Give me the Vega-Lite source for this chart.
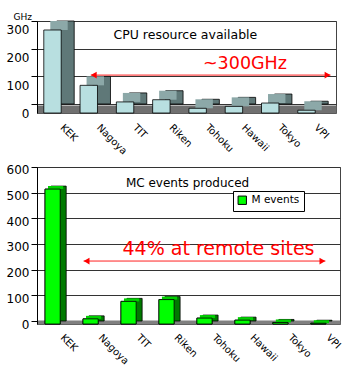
{
  "$schema": "https://vega.github.io/schema/vega-lite/v6.json",
  "padding": {"left": 5, "top": 11, "right": 5, "bottom": 0},
  "spacing": 6,
  "config": {
    "font": "DejaVu Sans",
    "view": {"stroke": "#444", "strokeWidth": 1},
    "axis": {"labelColor": "#000", "domainColor": "#000", "tickColor": "#000", "labelFont": "DejaVu Sans", "labelOverlap": false}
  },
  "vconcat": [
    {
      "width": 299,
      "height": 92,
      "data": {"values": [
        {"site": "KEK", "ghz": 300},
        {"site": "Nagoya", "ghz": 100},
        {"site": "TIT", "ghz": 40},
        {"site": "Riken", "ghz": 48},
        {"site": "Tohoku", "ghz": 17},
        {"site": "Hawaii", "ghz": 24},
        {"site": "Tokyo", "ghz": 36},
        {"site": "VPI", "ghz": 10}
      ]},
      "encoding": {
        "x": {
          "field": "site", "type": "nominal",
          "scale": {"domain": ["KEK", "Nagoya", "TIT", "Riken", "Tohoku", "Hawaii", "Tokyo", "VPI"], "paddingInner": 0.52, "paddingOuter": 0.38},
          "axis": {"title": null, "domain": true, "domainColor": "#707070", "domainWidth": 8, "offset": -4, "ticks": false, "labelAngle": 45, "labelAlign": "left", "labelBaseline": "top", "labelPadding": 13, "labelOffset": 6, "labelFontSize": 10}
        },
        "y": {
          "field": "ghz", "type": "quantitative",
          "scale": {"domain": [0, 332.5], "nice": false},
          "axis": {"values": [0, 100, 200, 300], "grid": true, "gridColor": "#333", "gridWidth": 1, "tickOffset": -9, "labelOffset": 9, "labelFontSize": 12, "tickSize": 6,
            "title": "GHz", "titleAngle": 0, "titleAlign": "left", "titleBaseline": "alphabetic", "titleX": -24, "titleY": -2, "titleFontSize": 9, "titleFontWeight": "normal", "titleColor": "#000"}
        }
      },
      "layer": [
        {
          "mark": {"type": "bar", "color": "#5f7878", "stroke": "#000", "strokeWidth": 0.8, "xOffset": 6, "yOffset": -9, "y2Offset": -9}
        },
        {
          "mark": {"type": "bar", "color": "#8ca8a8", "xOffset": -0.5, "yOffset": -9, "y2Offset": 0},
          "encoding": {"y2": {"field": "ghz"}}
        },
        {
          "mark": {"type": "bar", "color": "#b8dfe0", "stroke": "#000", "strokeWidth": 0.8, "xOffset": -7}
        },
        {
          "data": {"values": [{"t": "CPU resource available", "site": "Riken", "ghz": 282}]},
          "mark": {"type": "text", "fontSize": 12.5, "color": "#000", "dx": 17, "baseline": "middle"},
          "encoding": {"text": {"field": "t"}}
        },
        {
          "data": {"values": [{"t": "~300GHz", "site": "Hawaii", "ghz": 177}]},
          "mark": {"type": "text", "fontSize": 17.5, "color": "#ff0000", "dx": 4, "baseline": "middle"},
          "encoding": {"text": {"field": "t"}}
        },
        {
          "data": {"values": [{"site": "Nagoya", "site2": "VPI", "ghz": 137}]},
          "mark": {"type": "rule", "color": "#ff2020", "strokeWidth": 1, "xOffset": -5, "x2Offset": 17},
          "encoding": {"x2": {"field": "site2"}}
        },
        {
          "data": {"values": [{"site": "Nagoya", "ghz": 137}]},
          "mark": {"type": "point", "shape": "triangle-left", "filled": true, "color": "#ff0000", "size": 45, "xOffset": -2, "opacity": 1}
        },
        {
          "data": {"values": [{"site": "VPI", "ghz": 137}]},
          "mark": {"type": "point", "shape": "triangle-right", "filled": true, "color": "#ff0000", "size": 45, "xOffset": 14, "opacity": 1}
        }
      ]
    },
    {
      "width": 303,
      "height": 157,
      "data": {"values": [
        {"site": "KEK", "events": 525},
        {"site": "Nagoya", "events": 20},
        {"site": "TIT", "events": 88},
        {"site": "Riken", "events": 95},
        {"site": "Tohoku", "events": 23},
        {"site": "Hawaii", "events": 15},
        {"site": "Tokyo", "events": 6},
        {"site": "VPI", "events": 3}
      ]},
      "encoding": {
        "x": {
          "field": "site", "type": "nominal",
          "scale": {"domain": ["KEK", "Nagoya", "TIT", "Riken", "Tohoku", "Hawaii", "Tokyo", "VPI"], "paddingInner": 0.6, "paddingOuter": 0.29},
          "axis": {"title": null, "domain": true, "domainColor": "#808080", "domainWidth": 4, "offset": -2, "ticks": false, "labelAngle": 45, "labelAlign": "left", "labelBaseline": "top", "labelPadding": 10, "labelOffset": 10, "labelFontSize": 10}
        },
        "y": {
          "field": "events", "type": "quantitative",
          "scale": {"domain": [0, 611], "nice": false},
          "axis": {"values": [0, 100, 200, 300, 400, 500, 600], "grid": true, "gridColor": "#333", "gridWidth": 1, "tickOffset": -3, "labelOffset": 3, "labelFontSize": 12, "tickSize": 6, "title": null}
        }
      },
      "layer": [
        {
          "mark": {"type": "bar", "stroke": "#000", "strokeWidth": 0.8, "xOffset": -3},
          "encoding": {
            "color": {
              "datum": "M events",
              "scale": {"range": ["#00ff00"]},
              "legend": {"title": null, "orient": "none", "legendX": 196, "legendY": 170, "strokeColor": "#000", "fillColor": "#fff", "padding": 4, "symbolType": "square", "symbolSize": 70, "symbolStrokeColor": "#000", "symbolStrokeWidth": 1, "labelFontSize": 10.5, "labelColor": "#000"}
            }
          }
        },
        {
          "mark": {"type": "bar", "color": "#007a00", "stroke": "#000", "strokeWidth": 0.8, "xOffset": 3, "yOffset": -3, "y2Offset": -3}
        },
        {
          "mark": {"type": "bar", "color": "#00d000", "xOffset": 0, "yOffset": -3, "y2Offset": 0},
          "encoding": {"y2": {"field": "events"}}
        },
        {
          "mark": {"type": "bar", "color": "#00ff00", "stroke": "#000", "strokeWidth": 0.8, "xOffset": -3}
        },
        {
          "data": {"values": [{"t": "MC events produced", "site": "Riken", "events": 549}]},
          "mark": {"type": "text", "fontSize": 12, "color": "#000", "dx": 18, "baseline": "middle"},
          "encoding": {"text": {"field": "t"}}
        },
        {
          "data": {"values": [{"t": "44% at remote sites", "site": "Tohoku", "events": 292}]},
          "mark": {"type": "text", "fontSize": 19, "color": "#ff0000", "dx": 11, "baseline": "middle"},
          "encoding": {"text": {"field": "t"}}
        },
        {
          "data": {"values": [{"site": "Nagoya", "site2": "VPI", "events": 245}]},
          "mark": {"type": "rule", "color": "#ff2020", "strokeWidth": 1, "xOffset": -10, "x2Offset": 4},
          "encoding": {"x2": {"field": "site2"}}
        },
        {
          "data": {"values": [{"site": "Nagoya", "events": 245}]},
          "mark": {"type": "point", "shape": "triangle-left", "filled": true, "color": "#ff0000", "size": 45, "xOffset": -7, "opacity": 1}
        },
        {
          "data": {"values": [{"site": "VPI", "events": 245}]},
          "mark": {"type": "point", "shape": "triangle-right", "filled": true, "color": "#ff0000", "size": 45, "xOffset": 1, "opacity": 1}
        }
      ]
    }
  ]
}
